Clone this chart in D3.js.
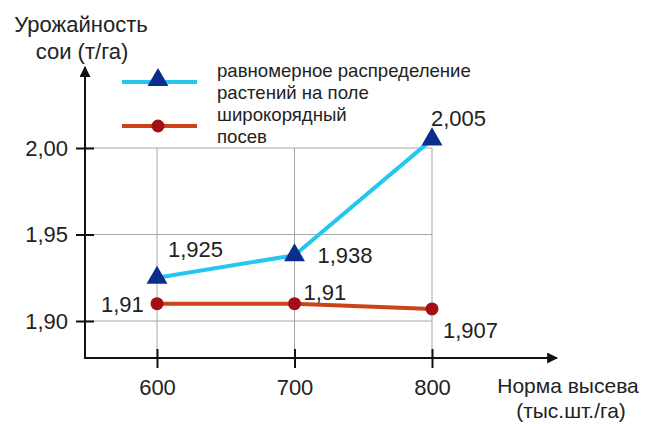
<!DOCTYPE html>
<html>
<head>
<meta charset="utf-8">
<script src="https://cdn.jsdelivr.net/npm/d3@7"></script>
<style>
  html, body { margin: 0; padding: 0; background: #fff; }
  svg text { font-family: "Liberation Sans", Arial, sans-serif; fill: #222; }
</style>
</head>
<body>
<svg id="chart" width="649" height="424"></svg>
<script>
// Seeding rate (thousand seeds per hectare)
const rates = [600, 700, 800];
// Soybean yield, t/ha
const uniformYield = [1.925, 1.938, 2.005];
const wideRowYield = [1.91, 1.91, 1.907];
// Value labels as printed next to each point
const uniformLabels = ["1,925", "1,938", "2,005"];
const wideRowLabels = ["1,91", "1,91", "1,907"];
// Axis ticks
const yTicks = [1.90, 1.95, 2.00];
const yTickLabels = ["1,90", "1,95", "2,00"];
const xTicks = [600, 700, 800];
const seriesNames = [["равномерное распределение", "растений на поле"], ["широкорядный", "посев"]];

const svg = d3.select("#chart");
const x = d3.scaleLinear().domain([600, 800]).range([157, 432]);
const y = d3.scaleLinear().domain([1.90, 2.00]).range([321, 148]);

const axisX0 = 85, axisY0 = 358;
const cyan = "#25c6f0", blue = "#0b2d8e", orange = "#cc4318", darkRed = "#a30f14";

// Grid
const grid = svg.append("g").attr("stroke", "#a6a6a6").attr("stroke-width", 1);
grid.selectAll("line.h").data(yTicks).join("line")
  .attr("x1", axisX0).attr("x2", x(800))
  .attr("y1", d => y(d)).attr("y2", d => y(d));
grid.selectAll("line.v").data(xTicks).join("line")
  .attr("x1", d => x(d)).attr("x2", d => x(d))
  .attr("y1", y(2.00)).attr("y2", axisY0);

// Arrow heads
const defs = svg.append("defs");
defs.append("marker").attr("id", "arrow").attr("viewBox", "0 0 10 10")
  .attr("refX", 9).attr("refY", 5).attr("markerWidth", 5.5).attr("markerHeight", 5.5)
  .attr("markerUnits", "strokeWidth").attr("orient", "auto")
  .append("path").attr("d", "M0,0 L10,5 L0,10 Z").attr("fill", "#111");

svg.append("line").attr("x1", axisX0).attr("x2", axisX0).attr("y1", axisY0 + 1).attr("y2", 67)
  .attr("stroke", "#111").attr("stroke-width", 2).attr("marker-end", "url(#arrow)");
svg.append("line").attr("x1", axisX0 - 1).attr("x2", 557).attr("y1", axisY0).attr("y2", axisY0)
  .attr("stroke", "#111").attr("stroke-width", 2).attr("marker-end", "url(#arrow)");

// Y axis ticks (crossing the axis line)
const yAxis = svg.append("g").attr("transform", `translate(${axisX0},0)`)
  .call(d3.axisLeft(y).tickValues(yTicks).tickFormat((d, i) => yTickLabels[i]).tickSize(9).tickPadding(9));
yAxis.select(".domain").remove();
yAxis.selectAll(".tick line").attr("x1", 9).attr("x2", -9).attr("stroke", "#111").attr("stroke-width", 2);
yAxis.selectAll(".tick text").attr("x", -17).attr("font-size", 22).attr("fill", "#222")
  .attr("font-family", "Liberation Sans, Arial, sans-serif");

// X axis ticks
const xAxis = svg.append("g").attr("transform", `translate(0,${axisY0})`)
  .call(d3.axisBottom(x).tickValues(xTicks).tickFormat(d3.format("d")).tickSize(10));
xAxis.select(".domain").remove();
xAxis.selectAll(".tick line").attr("y1", -9).attr("y2", 10).attr("stroke", "#111").attr("stroke-width", 2);
xAxis.selectAll(".tick text").attr("y", 37).attr("dy", 0).attr("font-size", 22).attr("fill", "#222")
  .attr("font-family", "Liberation Sans, Arial, sans-serif");

// Axis titles
const yTitle = svg.append("text").attr("text-anchor", "middle").attr("font-size", 22);
yTitle.append("tspan").attr("x", 81).attr("y", 32).text("Урожайность");
yTitle.append("tspan").attr("x", 82).attr("y", 59).text("сои (т/га)");
const xTitle = svg.append("text").attr("text-anchor", "middle").attr("font-size", 21);
xTitle.append("tspan").attr("x", 568).attr("y", 393).text("Норма высева");
xTitle.append("tspan").attr("x", 571).attr("y", 418).text("(тыс.шт./га)");

// Series lines
const line = d3.line().x(d => x(d[0])).y(d => y(d[1]));
const uniformPts = rates.map((r, i) => [r, uniformYield[i]]);
const wideRowPts = rates.map((r, i) => [r, wideRowYield[i]]);

svg.append("path").datum(wideRowPts).attr("d", line).attr("fill", "none")
  .attr("stroke", orange).attr("stroke-width", 4);
svg.append("path").datum(uniformPts).attr("d", line).attr("fill", "none")
  .attr("stroke", cyan).attr("stroke-width", 4);

const tri = d3.symbol().type(d3.symbolTriangle).size(190);
svg.selectAll("path.tri").data(uniformPts).join("path")
  .attr("transform", d => `translate(${x(d[0])},${y(d[1])})`)
  .attr("d", tri).attr("fill", blue);
svg.selectAll("circle.dot").data(wideRowPts).join("circle")
  .attr("cx", d => x(d[0])).attr("cy", d => y(d[1])).attr("r", 6.5).attr("fill", darkRed);

// Value labels
const uniformOffsets = [[11, -21], [23, 8], [-1, -13]];
const wideRowOffsets = [[-56, 8], [9, -4], [11, 29]];
svg.selectAll("text.u").data(uniformPts).join("text")
  .attr("x", (d, i) => x(d[0]) + uniformOffsets[i][0])
  .attr("y", (d, i) => y(d[1]) + uniformOffsets[i][1])
  .attr("font-size", 22).text((d, i) => uniformLabels[i]);
svg.selectAll("text.w").data(wideRowPts).join("text")
  .attr("x", (d, i) => x(d[0]) + wideRowOffsets[i][0])
  .attr("y", (d, i) => y(d[1]) + wideRowOffsets[i][1])
  .attr("font-size", 22).text((d, i) => wideRowLabels[i]);

// Legend
const legend = svg.append("g");
const legendRows = [{y: 82, color: cyan, mark: "tri"}, {y: 126, color: orange, mark: "dot"}];
legendRows.forEach((row, i) => {
  legend.append("line").attr("x1", 122).attr("x2", 197).attr("y1", row.y).attr("y2", row.y)
    .attr("stroke", row.color).attr("stroke-width", 4);
  if (row.mark === "tri") {
    legend.append("path").attr("transform", `translate(158,${row.y - 2})`).attr("d", tri).attr("fill", blue);
  } else {
    legend.append("circle").attr("cx", 158).attr("cy", row.y).attr("r", 6.5).attr("fill", darkRed);
  }
  const t = legend.append("text").attr("font-size", 18.6);
  t.append("tspan").attr("x", 217).attr("y", row.y - 5).text(seriesNames[i][0]);
  t.append("tspan").attr("x", 217).attr("y", row.y + 17).text(seriesNames[i][1]);
});
</script>
</body>
</html>
